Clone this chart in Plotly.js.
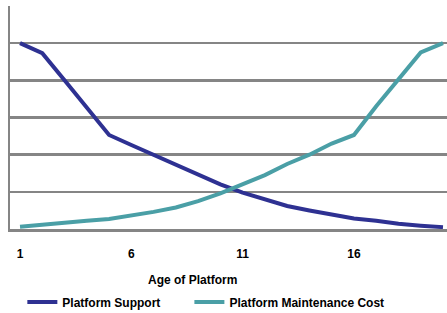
<!DOCTYPE html>
<html>
<head>
<meta charset="utf-8">
<script src="https://cdn.plot.ly/plotly-3.0.1.min.js"></script>
<style>html,body{margin:0;padding:0;background:#fff;}#chart{width:447px;height:313px;}</style>
</head>
<body>
<div id="chart"></div>
<script>
const ages = [1,2,3,4,5,6,7,8,9,10,11,12,13,14,15,16,17,18,19,20];
const platformSupport = [5.0,4.73,4.0,3.26,2.53,2.26,2.0,1.74,1.48,1.2,0.98,0.79,0.62,0.5,0.38,0.28,0.22,0.14,0.09,0.05];
const maintenanceCost = [0.06,0.12,0.17,0.22,0.27,0.36,0.46,0.58,0.75,0.96,1.21,1.45,1.75,2.0,2.3,2.53,3.3,4.03,4.75,5.0];
const tickVals = [1,6,11,16];
const tickText = ['1','6','11','16'];
const seriesNames = ['Platform Support','Platform Maintenance Cost'];
const xTitle = 'Age of Platform';

const font = {family:'"Liberation Sans", Arial, sans-serif', size:12, color:'#000', weight:'bold'};

const data = [
  {x: ages, y: platformSupport, name: seriesNames[0], type:'scatter', mode:'lines',
   line:{color:'#2E3192', width:4}, legend:'legend'},
  {x: ages, y: maintenanceCost, name: seriesNames[1], type:'scatter', mode:'lines',
   line:{color:'#4A9FA6', width:4}, legend:'legend2'}
];

const legendBase = {orientation:'h', xref:'container', yref:'container', y:0.035, xanchor:'left', yanchor:'middle',
                    font:font, bgcolor:'rgba(0,0,0,0)', itemwidth:30};

const layout = {
  width:447, height:313,
  margin:{l:10, r:0, t:6, b:84},
  paper_bgcolor:'#fff', plot_bgcolor:'#fff',
  font: font,
  showlegend:true,
  legend:Object.assign({}, legendBase, {x:0.05}),
  legend2:Object.assign({}, legendBase, {x:0.4237}),
  xaxis:{range:[0.55,20.18], tickvals:tickVals, ticktext:tickText, showgrid:false, zeroline:false,
         showline:true, linecolor:'#858585', linewidth:2.5, ticks:'', ticklabelstandoff:12,
         tickfont:font, fixedrange:true},
  yaxis:{range:[0,6], dtick:1, showgrid:true, gridcolor:'#858585', gridwidth:2.5, zeroline:false,
         showline:true, linecolor:'#858585', linewidth:2.5, showticklabels:false, ticks:'', fixedrange:true},
  annotations:[{text:xTitle, xref:'paper', yref:'paper', x:0.4165, y:-0.23, xanchor:'center', yanchor:'middle',
                showarrow:false, font:font}]
};
Plotly.newPlot('chart', data, layout, {displayModeBar:false, staticPlot:true});
</script>
</body>
</html>
